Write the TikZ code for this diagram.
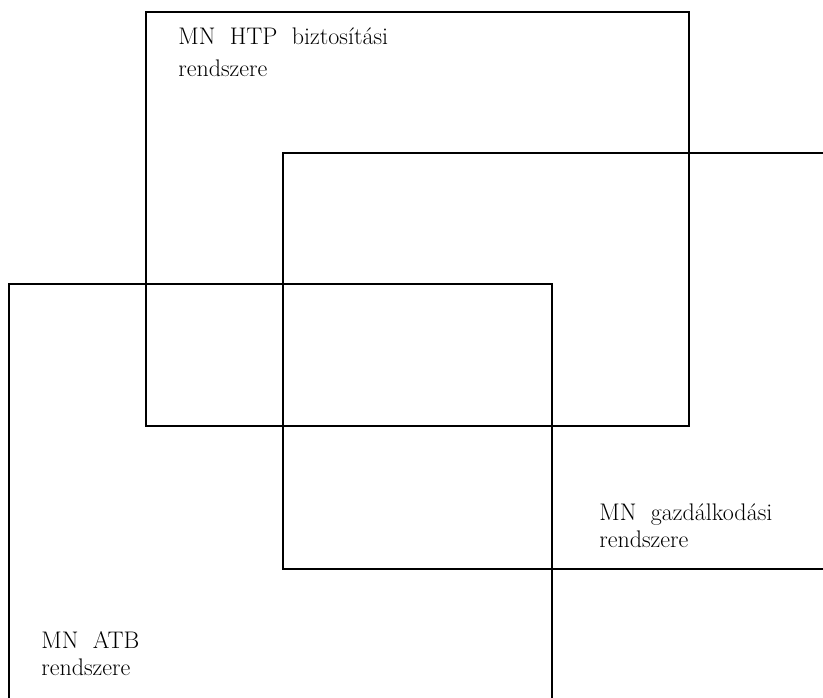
\documentclass[tikz,border=0pt]{standalone}
\newcommand\lblfont{\fontsize{24}{27}\selectfont\spaceskip=.6em plus .1em\relax}
\begin{document}
\begin{tikzpicture}[x=1pt,y=-1pt,line width=2.7pt,
  lbl/.style={anchor=base west,inner sep=0pt,align=left,font=\lblfont}]
			\useasboundingbox (0,0) rectangle (823,698);
			% Draw HTP square
			\draw (146,12) rectangle (689,426);
			% Draw gazdalkodasi square, open to the right
			\draw (823,153) -- (283,153) -- (283,569) -- (823,569);
			% Draw ATB square, open to the bottom
			\draw (9,698) -- (9,284) -- (552,284) -- (552,698);
			% Draw labels (placed at the baseline of the last line)
			\node[lbl] (htp) at (177,77) {MN HTP biztosítási\\[5pt]rendszere};
			\node[lbl] (gazd) at (598,547) {MN gazdálkodási\\rendszere};
			\node[lbl] (atb) at (40,675) {MN ATB\\rendszere};
		\end{tikzpicture}
\end{document}
